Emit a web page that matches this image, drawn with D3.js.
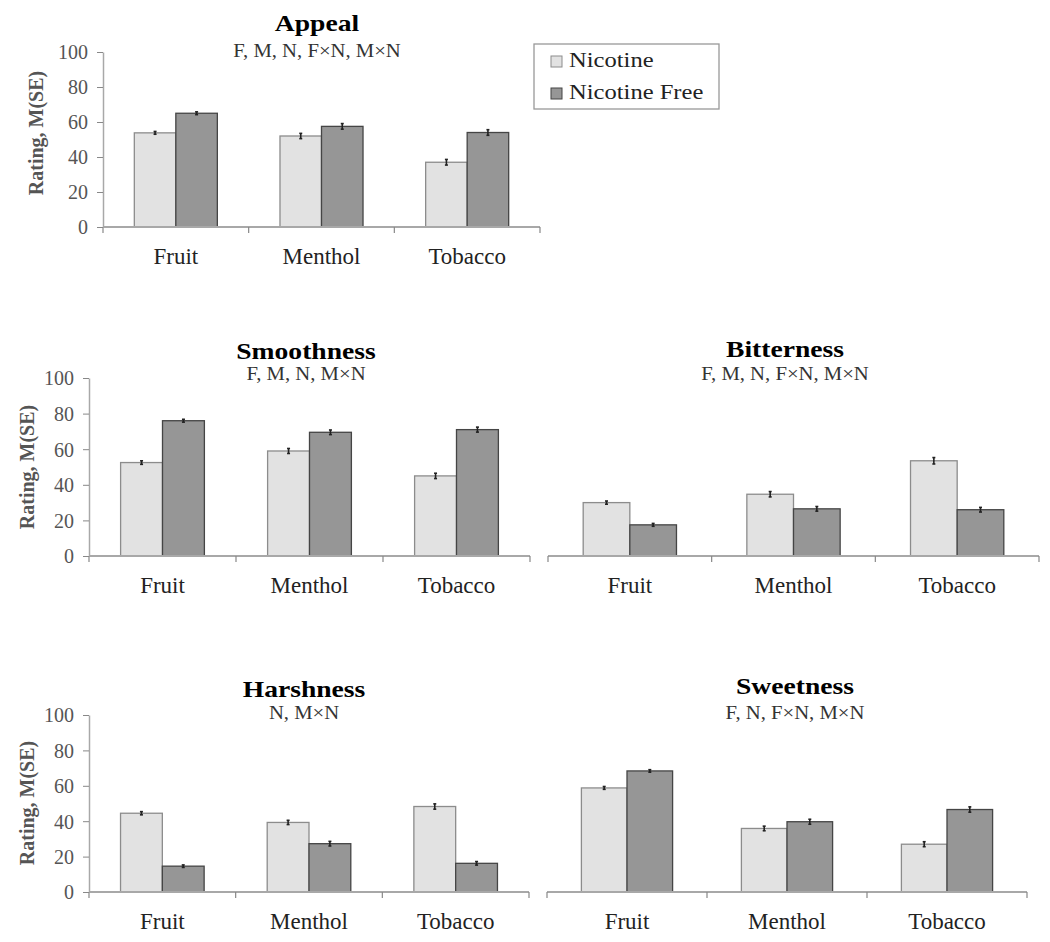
<!DOCTYPE html>
<html>
<head>
<meta charset="utf-8">
<script src="https://cdn.jsdelivr.net/npm/d3@7"></script>
<style>
  html, body { margin: 0; padding: 0; background: #fff; }
  svg { display: block; }
</style>
</head>
<body>
<svg id="chart" width="1050" height="942"></svg>
<script>
// ---------- DATA ----------
const categories = ["Fruit", "Menthol", "Tobacco"];
const seriesNames = ["Nicotine", "Nicotine Free"];
const yTicks = [0, 20, 40, 60, 80, 100];
const yLabel = "Rating, M(SE)";

const appealNicotine      = [53.8, 52.0, 37.0];
const appealNicotineFree  = [65.0, 57.5, 54.0];
const appealSE_N          = [0.8, 1.5, 1.6];
const appealSE_NF         = [0.8, 1.6, 1.6];

const smoothNicotine      = [52.5, 59.0, 45.0];
const smoothNicotineFree  = [76.0, 69.5, 71.0];
const smoothSE_N          = [1.0, 1.4, 1.5];
const smoothSE_NF         = [0.8, 1.3, 1.4];

const bitterNicotine      = [30.0, 34.7, 53.5];
const bitterNicotineFree  = [17.5, 26.5, 26.0];
const bitterSE_N          = [0.9, 1.5, 1.8];
const bitterSE_NF         = [0.8, 1.3, 1.3];

const harshNicotine       = [44.5, 39.3, 48.3];
const harshNicotineFree   = [14.6, 27.3, 16.2];
const harshSE_N           = [0.9, 1.2, 1.5];
const harshSE_NF          = [0.7, 1.3, 1.0];

const sweetNicotine       = [58.8, 35.9, 27.0];
const sweetNicotineFree   = [68.4, 39.7, 46.6];
const sweetSE_N           = [0.8, 1.3, 1.4];
const sweetSE_NF          = [0.7, 1.4, 1.5];

const panelTitles    = ["Appeal", "Smoothness", "Bitterness", "Harshness", "Sweetness"];
const panelSubtitles = ["F, M, N, F×N, M×N", "F, M, N, M×N", "F, M, N, F×N, M×N", "N, M×N", "F, N, F×N, M×N"];

// ---------- LAYOUT ----------
const FONT = '"Liberation Serif"';
const panels = [
  { vals: [appealNicotine, appealNicotineFree], se: [appealSE_N, appealSE_NF],
    x0: 103, x1: 540, yTop: 52, yBase: 227, yAxis: true, labelX: 36, labelY: 133,
    tX: 317, tY: 31, sY: 57, legend: true },
  { vals: [smoothNicotine, smoothNicotineFree], se: [smoothSE_N, smoothSE_NF],
    x0: 89, x1: 530, yTop: 378, yBase: 556, yAxis: true, labelX: 27, labelY: 467,
    tX: 306, tY: 359, sY: 380 },
  { vals: [bitterNicotine, bitterNicotineFree], se: [bitterSE_N, bitterSE_NF],
    x0: 548, x1: 1039, yTop: 378, yBase: 556, yAxis: false,
    tX: 785, tY: 357, sY: 380 },
  { vals: [harshNicotine, harshNicotineFree], se: [harshSE_N, harshSE_NF],
    x0: 89, x1: 529, yTop: 715, yBase: 892, yAxis: true, labelX: 27, labelY: 803,
    tX: 304, tY: 697, sY: 719 },
  { vals: [sweetNicotine, sweetNicotineFree], se: [sweetSE_N, sweetSE_NF],
    x0: 547, x1: 1027, yTop: 715, yBase: 892, yAxis: false,
    tX: 795, tY: 694, sY: 719 }
];

const fills   = ["#e2e2e2", "#969696"];
const strokes = ["#8c8c8c", "#454545"];
const axisColor = "#a8a8a8";

const svg = d3.select("#chart");

function stretchText(g, x, y, str, size, opts = {}) {
  const sx = opts.sx || 1;
  return g.append("text")
    .attr("transform", `translate(${x},${y}) scale(${sx},1)`)
    .attr("text-anchor", opts.anchor || "middle")
    .style("font-family", FONT)
    .style("font-size", size + "px")
    .style("font-weight", opts.bold ? "bold" : "normal")
    .attr("fill", opts.fill || "#000")
    .text(str);
}

panels.forEach((p, i) => {
  const g = svg.append("g");
  const x = d3.scaleBand().domain(categories).range([p.x0, p.x1]).padding(0);
  const bw = x.bandwidth();
  const xs = d3.scaleBand().domain(seriesNames).range([bw * 0.215, bw * 0.785]).padding(0);
  const y = d3.scaleLinear().domain([0, 100]).range([p.yBase, p.yTop]);

  // bars
  seriesNames.forEach((s, si) => {
    g.selectAll(null).data(categories).enter().append("rect")
      .attr("x", c => x(c) + xs(s))
      .attr("y", (c, ci) => y(p.vals[si][ci]))
      .attr("width", xs.bandwidth())
      .attr("height", (c, ci) => y(0) - y(p.vals[si][ci]))
      .attr("fill", fills[si])
      .attr("stroke", strokes[si])
      .attr("stroke-width", 1.3);
  });
  // error bars
  seriesNames.forEach((s, si) => {
    const eb = g.selectAll(null).data(categories).enter().append("g")
      .attr("stroke", "#222").attr("stroke-width", 1.6);
    const cx = c => x(c) + xs(s) + xs.bandwidth() / 2;
    eb.append("line")
      .attr("x1", cx).attr("x2", cx)
      .attr("y1", (c, ci) => y(p.vals[si][ci] - p.se[si][ci]))
      .attr("y2", (c, ci) => y(p.vals[si][ci] + p.se[si][ci]));
    [-1, 1].forEach(sg => {
      eb.append("line")
        .attr("x1", c => cx(c) - 1.5).attr("x2", c => cx(c) + 1.5)
        .attr("y1", (c, ci) => y(p.vals[si][ci] + sg * p.se[si][ci]))
        .attr("y2", (c, ci) => y(p.vals[si][ci] + sg * p.se[si][ci]));
    });
  });

  // x axis line + boundary ticks
  g.append("line").attr("x1", p.x0).attr("x2", p.x1)
    .attr("y1", p.yBase).attr("y2", p.yBase)
    .attr("stroke", axisColor).attr("stroke-width", 1.8);
  const bounds = categories.map(c => x(c)).concat([p.x1]);
  g.selectAll(null).data(bounds).enter().append("line")
    .attr("x1", d => d).attr("x2", d => d)
    .attr("y1", p.yBase).attr("y2", p.yBase + 6)
    .attr("stroke", "#888").attr("stroke-width", 1.2);

  // category labels
  const xAxis = d3.axisBottom(x).tickSize(0).tickPadding(0);
  const xg = g.append("g").attr("transform", `translate(0,${p.yBase})`).call(xAxis);
  xg.select(".domain").remove();
  xg.attr("font-family", null).attr("font-size", null);
  xg.selectAll("text")
    .attr("dy", null).attr("y", 37)
    .style("font-size", "23px")
    .style("font-family", FONT)
    .attr("fill", "#222");

  // y axis
  if (p.yAxis) {
    const yAxis = d3.axisLeft(y).tickValues(yTicks).tickSize(6).tickSizeOuter(0).tickPadding(9);
    const yg = g.append("g").attr("transform", `translate(${p.x0},0)`).call(yAxis);
    yg.attr("font-family", null).attr("font-size", null);
    yg.select(".domain").attr("stroke", axisColor).attr("stroke-width", 1.5);
    yg.selectAll(".tick line").attr("stroke", "#888");
    yg.selectAll("text")
      .style("font-size", "20px")
      .style("font-family", FONT)
      .attr("fill", "#555")
      .attr("dy", "0.34em");
    g.append("text")
      .attr("transform", `translate(${p.labelX},${p.labelY}) rotate(-90)`)
      .attr("text-anchor", "middle")
      .attr("dy", "0.35em")
      .style("font-size", "20px")
      .style("font-weight", "bold")
      .style("font-family", FONT)
      .attr("fill", "#555")
      .text(yLabel);
  }

  // titles
  stretchText(g, p.tX, p.tY, panelTitles[i], 24, { bold: true, sx: 1.15 });
  stretchText(g, p.tX, p.sY, panelSubtitles[i], 18, { sx: 1.15, fill: "#333" });

  // legend
  if (p.legend) {
    const lg = svg.append("g");
    lg.append("rect").attr("x", 534).attr("y", 44).attr("width", 185).attr("height", 65)
      .attr("fill", "#fff").attr("stroke", "#999").attr("stroke-width", 1.3);
    seriesNames.forEach((s, si) => {
      const yy = 67 + si * 32;
      lg.append("rect").attr("x", 551).attr("y", yy - 11).attr("width", 11).attr("height", 11)
        .attr("fill", fills[si]).attr("stroke", strokes[si]).attr("stroke-width", 1);
      stretchText(lg, 569, yy, s, 21, { anchor: "start", sx: 1.17, fill: "#222" });
    });
  }
});
</script>
</body>
</html>
